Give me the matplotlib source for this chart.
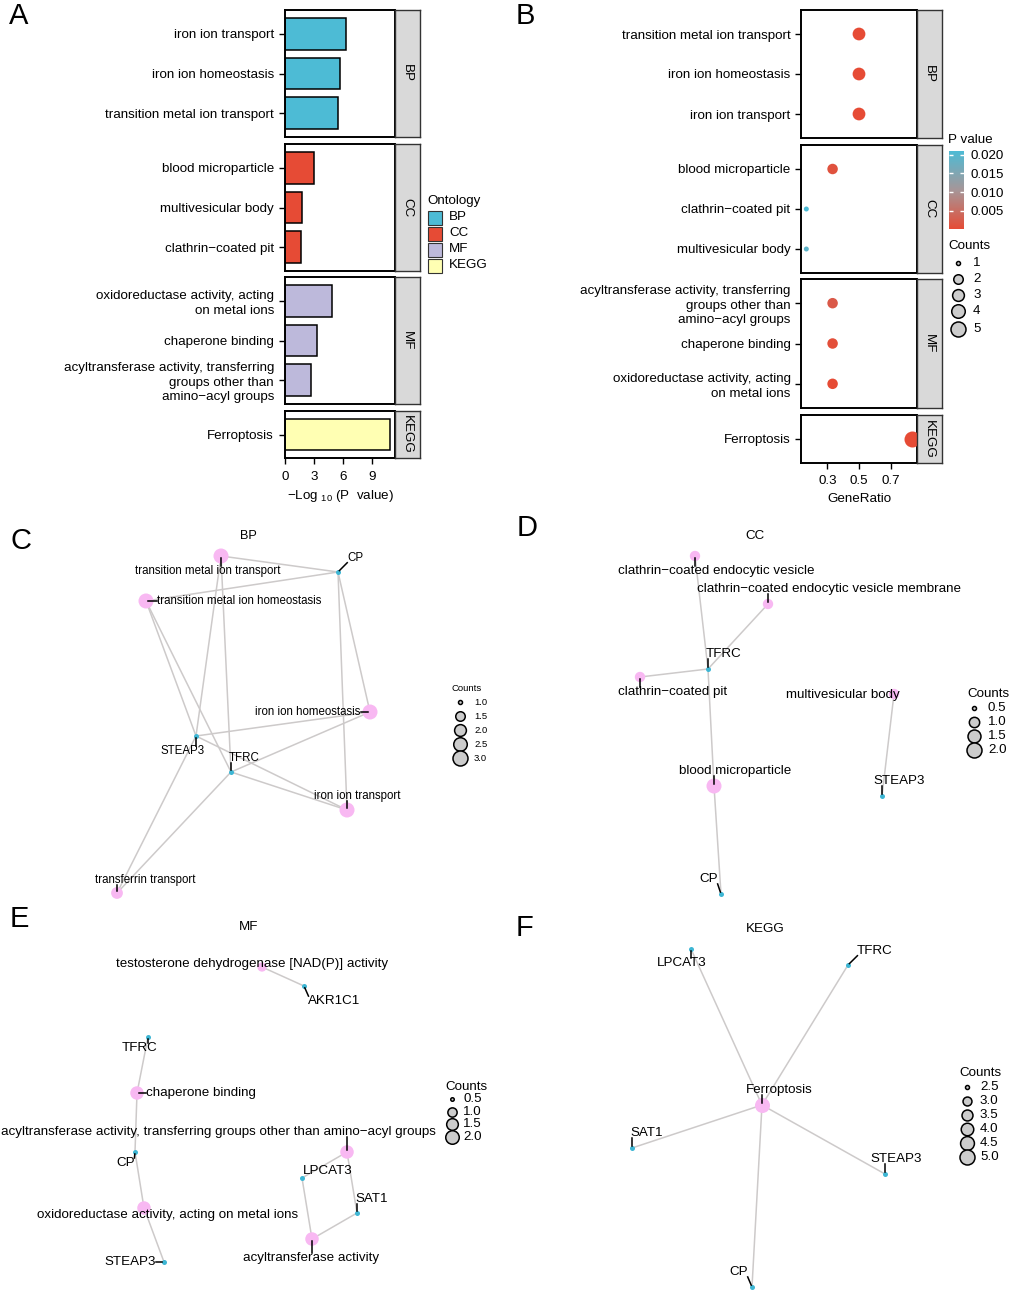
import numpy as np
import matplotlib.pyplot as plt
from matplotlib.colors import LinearSegmentedColormap, Normalize
from matplotlib.cm import ScalarMappable
from matplotlib.patches import Rectangle

plt.rcParams['font.family'] = ['Liberation Sans', 'DejaVu Sans']
plt.rcParams['mathtext.fontset'] = 'custom'
plt.rcParams['mathtext.rm'] = 'Liberation Sans'

# ---------------- enrichment table (panels A and B)
terms = ['iron ion transport', 'iron ion homeostasis', 'transition metal ion transport',
         'blood microparticle', 'multivesicular body', 'clathrin\u2212coated pit',
         'oxidoreductase activity, acting\non metal ions', 'chaperone binding',
         'acyltransferase activity, transferring\ngroups other than\namino\u2212acyl groups',
         'Ferroptosis']
ontology = ['BP', 'BP', 'BP', 'CC', 'CC', 'CC', 'MF', 'MF', 'MF', 'KEGG']
pvalue = [5.6e-7, 2.0e-6, 3.2e-6, 1.0e-3, 0.0190, 0.0211, 1.3e-5, 5.0e-4, 2.0e-3, 1.6e-11]
counts = [3, 3, 3, 2, 1, 1, 2, 2, 2, 5]
gene_ratio = [0.5, 0.5, 0.5, 0.333, 0.167, 0.167, 0.333, 0.333, 0.333, 0.833]
ont_levels = ['BP', 'CC', 'MF', 'KEGG']
a_order = [[0, 1, 2], [3, 4, 5], [6, 7, 8], [9]]
b_order = [[2, 1, 0], [3, 5, 4], [8, 7, 6], [9]]
a_xticks = [0, 3, 6, 9]
b_xticks = [0.3, 0.5, 0.7]
pv_ticks = [0.005, 0.010, 0.015, 0.020]
b_size_keys = [1, 2, 3, 4, 5]

# ---------------- network C (BP)
c_terms = ['transition metal ion transport', 'transition metal ion homeostasis',
           'iron ion homeostasis', 'iron ion transport', 'transferrin transport']
c_term_count = [3, 3, 3, 3, 2]
c_term_x = [221, 146, 370, 347, 117]
c_term_y = [556, 601, 712, 810, 893]
c_term_lx = [208, 239, 308, 357, 145]
c_term_ly = [571, 601, 712, 796, 880]
c_genes = ['CP', 'STEAP3', 'TFRC']
c_gene_x = [338, 196, 231]
c_gene_y = [572, 736, 772]
c_gene_lx = [355, 183, 244]
c_gene_ly = [558, 751, 758]
c_links = [[0, 1, 2], [0, 1, 2], [0, 1, 2], [0, 1, 2], [1, 2]]
c_keys = [1.0, 1.5, 2.0, 2.5, 3.0]

# ---------------- network D (CC)
d_terms = ['clathrin\u2212coated endocytic vesicle', 'clathrin\u2212coated endocytic vesicle membrane',
           'clathrin\u2212coated pit', 'multivesicular body', 'blood microparticle']
d_term_count = [1, 1, 1, 1, 2]
d_term_x = [695, 768, 640, 894, 714]
d_term_y = [556, 604, 677, 694, 786]
d_term_lx = [716, 829, 673, 843, 735]
d_term_ly = [571, 589, 692, 695, 771]
d_genes = ['TFRC', 'STEAP3', 'CP']
d_gene_x = [708, 882, 721]
d_gene_y = [669, 796, 894]
d_gene_lx = [724, 899, 709]
d_gene_ly = [654, 781, 879]
d_links = [[0], [0], [0], [1], [0, 2]]
d_keys = [0.5, 1.0, 1.5, 2.0]

# ---------------- network E (MF)
e_terms = ['testosterone dehydrogenase [NAD(P)] activity', 'chaperone binding',
           'acyltransferase activity, transferring groups other than amino\u2212acyl groups',
           'oxidoreductase activity, acting on metal ions', 'acyltransferase activity']
e_term_count = [1, 2, 2, 2, 2]
e_term_x = [262, 137, 347, 144, 312]
e_term_y = [967, 1093, 1152, 1208, 1239]
e_term_lx = [252, 201, 218, 168, 311]
e_term_ly = [964, 1093, 1132, 1215, 1258]
e_genes = ['AKR1C1', 'TFRC', 'CP', 'LPCAT3', 'SAT1', 'STEAP3']
e_gene_x = [304, 148, 135, 302, 357, 164]
e_gene_y = [986, 1037, 1152, 1178, 1213, 1262]
e_gene_lx = [334, 140, 126, 328, 372, 130]
e_gene_ly = [1001, 1048, 1163, 1171, 1199, 1262]
e_links = [[0], [1, 2], [3, 4], [2, 5], [3, 4]]
e_keys = [0.5, 1.0, 1.5, 2.0]

# ---------------- network F (KEGG)
f_terms = ['Ferroptosis']
f_term_count = [5]
f_term_x = [762]
f_term_y = [1105]
f_term_lx = [779]
f_term_ly = [1090]
f_genes = ['LPCAT3', 'TFRC', 'SAT1', 'STEAP3', 'CP']
f_gene_x = [691, 848, 632, 885, 752]
f_gene_y = [949, 965, 1148, 1174, 1287]
f_gene_lx = [682, 875, 647, 896, 739]
f_gene_ly = [963, 951, 1133, 1159, 1272]
f_links = [[0, 1, 2, 3, 4]]
f_keys = [2.5, 3.0, 3.5, 4.0, 4.5, 5.0]

ont_colors = {'BP': '#4DBBD5', 'CC': '#E64B35', 'MF': '#BDB9DB', 'KEGG': '#FFFFB3'}
PINK = '#F8B8F2'
CYAN = '#3DB6D4'
EDGE = '#CDCACA'
FS = 9.6

W, H = 1010, 1291
fig = plt.figure(figsize=(W / 100, H / 100), dpi=100)


def px_axes(x0, y0, x1, y1):
    return fig.add_axes([x0 / W, 1 - y1 / H, (x1 - x0) / W, (y1 - y0) / H])


def s_of(d):
    # diameter in px -> scatter size in pt^2
    return (np.asarray(d) * 0.72) ** 2


ov = px_axes(0, 0, W, H)
ov.set_xlim(0, W)
ov.set_ylim(H, 0)
ov.axis('off')

for lab, x, y in [('A', 9, 2), ('B', 516, 2), ('C', 10, 527), ('D', 517, 514),
                  ('E', 10, 905), ('F', 516, 914)]:
    ov.text(x, y, lab, fontsize=21, ha='left', va='top')


def strip(x0, y0, x1, y1, label):
    sax = px_axes(x0, y0, x1, y1)
    sax.set_facecolor('#D9D9D9')
    sax.set_xticks([])
    sax.set_yticks([])
    for sp in sax.spines.values():
        sp.set_color('#333333')
        sp.set_linewidth(1.0)
    sax.text(0.5, 0.5, label, rotation=-90, ha='center', va='center',
             fontsize=FS, transform=sax.transAxes)


def facet_style(ax, n, last, pad):
    ax.set_ylim(n - 0.4, -0.6)
    for sp in ax.spines.values():
        sp.set_linewidth(1.4)
    ax.tick_params(axis='y', length=4, width=1.0, pad=pad, labelsize=FS)
    if not last:
        ax.set_xticks([])


# ---------------- panel A: bar facets
a_rows = [(10, 137), (144, 271), (277, 404), (411, 458)]
neglog = -np.log10(pvalue)
a_xmax = neglog.max() * 1.05
for k, ont in enumerate(ont_levels):
    y0, y1 = a_rows[k]
    ax = px_axes(285, y0, 395, y1)
    idx = a_order[k]
    pos = np.arange(len(idx))
    ax.barh(pos, neglog[idx], height=0.8, color=ont_colors[ont],
            edgecolor='black', linewidth=1.1)
    ax.set_xlim(0, a_xmax)
    ax.set_yticks(pos)
    ax.set_yticklabels([terms[i] for i in idx], linespacing=1.28)
    facet_style(ax, len(idx), k == 3, 4)
    if k == 3:
        ax.set_xticks(a_xticks)
        ax.tick_params(axis='x', length=4, width=1.0, pad=5, labelsize=FS)
        ax.set_xlabel('\u2212Log $_{\\mathregular{10}}$ (P  value)', fontsize=FS, labelpad=4)
    strip(395, y0, 419.5, y1, ont)

ov.text(427, 201, 'Ontology', fontsize=FS, ha='left', va='center')
for k, ont in enumerate(ont_levels):
    yc = 217.5 + 16 * k
    ov.add_patch(Rectangle((428, yc - 7), 14, 14, facecolor=ont_colors[ont],
                           edgecolor='#333333', linewidth=0.8))
    ov.text(449, yc, ont, fontsize=FS, ha='left', va='center')

# ---------------- panel B: dot facets
cmap = LinearSegmentedColormap.from_list('pv', ['#E64B35', '#A69698', '#4DBBD5'])
norm = Normalize(min(pvalue), max(pvalue))


def b_diam(c):
    return 5.0 + 11.0 * np.sqrt((np.asarray(c, float) - 1) / 4)


b_rows = [(10, 138), (145, 273), (279, 408), (415, 463)]
for k, ont in enumerate(ont_levels):
    y0, y1 = b_rows[k]
    ax = px_axes(801, y0, 917, y1)
    idx = b_order[k]
    pos = np.arange(len(idx))
    ax.scatter(np.array(gene_ratio)[idx], pos, s=s_of(b_diam(np.array(counts)[idx])),
               c=np.array(pvalue)[idx], cmap=cmap, norm=norm, linewidths=0, zorder=3)
    ax.set_xlim(0.1333, 0.8667)
    ax.set_yticks(pos)
    ax.set_yticklabels([terms[i] for i in idx], linespacing=1.28)
    facet_style(ax, len(idx), k == 3, 3.5)
    if k == 3:
        ax.set_xticks(b_xticks)
        ax.set_xticklabels(['0.3', '0.5', '0.7'])
        ax.tick_params(axis='x', length=4, width=1.0, pad=5, labelsize=FS)
        ax.set_xlabel('GeneRatio', fontsize=FS, labelpad=4)
    strip(917, y0, 941.5, y1, ont)

ov.text(948, 140, 'P value', fontsize=FS, ha='left', va='center')
cax = px_axes(949, 150.7, 964, 229.3)
cb = fig.colorbar(ScalarMappable(norm=norm, cmap=cmap), cax=cax)
cb.outline.set_visible(False)
cb.set_ticks(pv_ticks)
cb.set_ticklabels(['%.3f' % t for t in pv_ticks])
cax.tick_params(which='both', direction='in', color='white', length=3, width=1,
                left=True, right=True, labelleft=False, labelright=True,
                labelsize=FS, pad=5)
ov.text(948, 246, 'Counts', fontsize=FS, ha='left', va='center')
for k, c in enumerate(b_size_keys):
    yc = [262.7, 279, 295, 311, 329][k]
    ov.scatter([957.7], [yc], s=s_of(b_diam(c) - 1), facecolor='#CCCCCC',
               edgecolor='black', linewidths=1.1, zorder=3)
    ov.text(973, yc, str(c), fontsize=FS, ha='left', va='center')

# ---------------- networks C-F
label_jobs = []


def network(box, title, title_xy, fs, lfs,
            t_names, t_count, tx, ty, tlx, tly,
            g_names, gx, gy, glx, gly, links,
            keys, d_lo, d_hi, leg_x, leg_y, leg_dy, key_dx, txt_dx):
    ax = px_axes(*box)
    ax.set_xlim(box[0], box[2])
    ax.set_ylim(box[3], box[1])
    ax.axis('off')

    def diam(c):
        return d_lo + (d_hi - d_lo) * np.sqrt((np.asarray(c, float) - keys[0]) / (keys[-1] - keys[0]))

    ax.text(title_xy[0], title_xy[1], title, fontsize=fs * 1.1 if fs < 9 else fs,
            ha='center', va='center')
    for i, genes in enumerate(links):
        for g in genes:
            ax.plot([tx[i], gx[g]], [ty[i], gy[g]], color=EDGE, lw=1.1, zorder=1,
                    clip_on=False, solid_capstyle='round')
    ax.scatter(tx, ty, s=s_of(diam(t_count)), color=PINK, linewidths=0, zorder=2, clip_on=False)
    ax.scatter(gx, gy, s=s_of(5), color=CYAN, linewidths=0, zorder=2, clip_on=False)
    for i, name in enumerate(t_names):
        t = ax.text(tlx[i], tly[i], name, fontsize=fs, ha='center', va='center', zorder=4)
        label_jobs.append((ax, t, tx[i], ty[i]))
    for i, name in enumerate(g_names):
        t = ax.text(glx[i], gly[i], name, fontsize=fs, ha='center', va='center', zorder=4)
        label_jobs.append((ax, t, gx[i], gy[i]))

    # size legend (title left aligned at leg_x)
    ax.text(leg_x, leg_y, 'Counts', fontsize=lfs, ha='left', va='center')
    for k, c in enumerate(keys):
        yc = leg_y + leg_dy * (k + 1)
        ax.scatter([leg_x + key_dx], [yc], s=s_of(diam(c)), facecolor='#CCCCCC',
                   edgecolor='black', linewidths=1.1, zorder=3, clip_on=False)
        ax.text(leg_x + txt_dx, yc, '%.1f' % c, fontsize=lfs, ha='left', va='center')


network((0, 520, 505, 905), 'BP', (248, 536), 8.3, 6.8,
        c_terms, c_term_count, c_term_x, c_term_y, c_term_lx, c_term_ly,
        c_genes, c_gene_x, c_gene_y, c_gene_lx, c_gene_ly, c_links,
        c_keys, 4, 15, 452, 688, 14, 8, 22)
network((505, 520, 1010, 905), 'CC', (755, 536), FS, FS,
        d_terms, d_term_count, d_term_x, d_term_y, d_term_lx, d_term_ly,
        d_genes, d_gene_x, d_gene_y, d_gene_lx, d_gene_ly, d_links,
        d_keys, 4, 15, 967, 694, 14, 7, 21)
network((0, 905, 505, 1291), 'MF', (249, 927), FS, FS,
        e_terms, e_term_count, e_term_x, e_term_y, e_term_lx, e_term_ly,
        e_genes, e_gene_x, e_gene_y, e_gene_lx, e_gene_ly, e_links,
        e_keys, 3.5, 13.5, 445, 1087, 12.5, 7, 18)
network((505, 905, 1010, 1291), 'KEGG', (765, 929), FS, FS,
        f_terms, f_term_count, f_term_x, f_term_y, f_term_lx, f_term_ly,
        f_genes, f_gene_x, f_gene_y, f_gene_lx, f_gene_ly, f_links,
        f_keys, 4, 15, 959, 1073, 14, 8, 21)

# label connector segments (ggrepel style), from node to nearest point of label box
fig.canvas.draw()
renderer = fig.canvas.get_renderer()
for ax, t, nx, ny in label_jobs:
    bb = t.get_window_extent(renderer).transformed(ax.transData.inverted())
    x0, x1 = sorted([bb.x0, bb.x1])
    y0, y1 = sorted([bb.y0, bb.y1])
    x0, x1, y0, y1 = x0 + 1, x1 - 1, y0 + 2, y1 - 2
    px = min(max(nx, x0), x1)
    py = min(max(ny, y0), y1)
    dx, dy = px - nx, py - ny
    dist = np.hypot(dx, dy)
    if dist < 4:
        continue
    ux, uy = dx / dist, dy / dist
    ax.plot([nx + ux * 2, px - ux * 1], [ny + uy * 2, py - uy * 1], color='black',
            lw=1.1, zorder=3, clip_on=False)

fig.savefig('out.png', dpi=100)
